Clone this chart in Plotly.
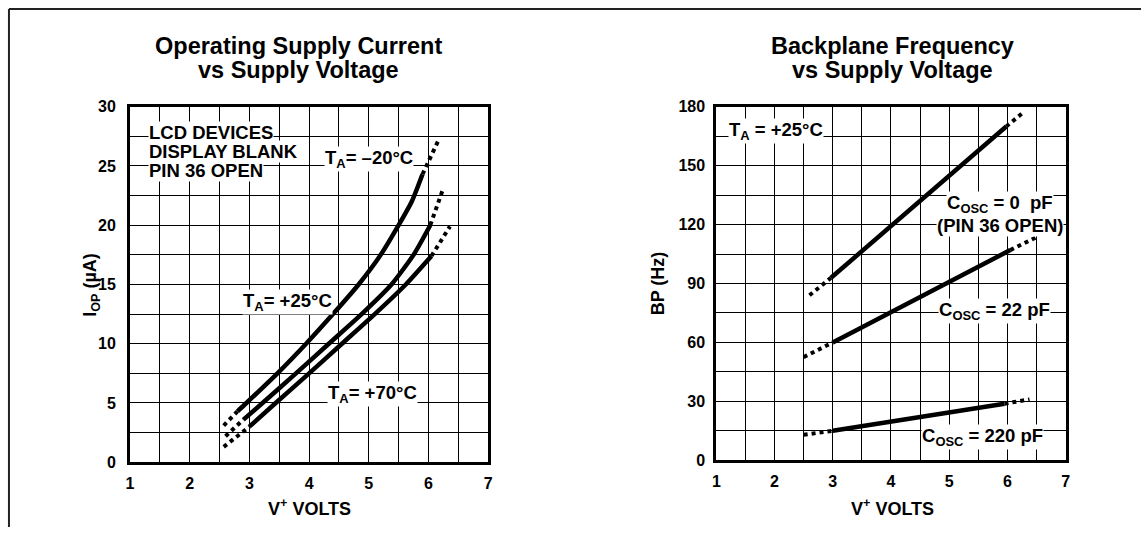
import plotly.graph_objects as go

# ---------------- Left chart: Operating supply current vs supply voltage ----------------
v_m20 = [2.80, 2.95, 3.47, 3.95, 4.40, 4.83, 5.20, 5.50, 5.72, 5.90]
i_m20 = [4.3, 5.0, 7.5, 10.0, 12.5, 15.0, 17.5, 20.0, 22.0, 24.3]
v_m20_lo = [2.57, 2.80]
i_m20_lo = [3.1, 4.3]
v_m20_hi = [5.90, 6.17]
i_m20_hi = [24.3, 27.2]

v_p25 = [2.90, 3.22, 3.78, 4.33, 4.88, 5.38, 5.75, 6.03]
i_p25 = [3.6, 5.0, 7.5, 10.0, 12.5, 15.0, 17.5, 20.0]
v_p25_lo = [2.60, 2.90]
i_p25_lo = [2.2, 3.6]
v_p25_hi = [6.03, 6.24]
i_p25_hi = [20.0, 23.0]

v_p70 = [3.00, 3.44, 4.00, 4.55, 5.10, 5.62, 6.05]
i_p70 = [3.0, 5.0, 7.5, 10.0, 12.5, 15.0, 17.4]
v_p70_lo = [2.57, 3.00]
i_p70_lo = [1.3, 3.0]
v_p70_hi = [6.05, 6.36]
i_p70_hi = [17.4, 19.9]

# ---------------- Right chart: Backplane frequency vs supply voltage ----------------
v_c0 = [2.97, 5.98]
bp_c0 = [92.9, 169.9]
v_c0_lo = [2.60, 2.97]
bp_c0_lo = [84.0, 92.9]
v_c0_hi = [5.98, 6.29]
bp_c0_hi = [169.9, 177.5]

v_c22 = [3.0, 6.05]
bp_c22 = [60.0, 107.0]
v_c22_lo = [2.5, 3.0]
bp_c22_lo = [52.5, 60.0]
v_c22_hi = [6.05, 6.5]
bp_c22_hi = [107.0, 113.6]

v_c220 = [3.0, 5.95]
bp_c220 = [15.0, 28.8]
v_c220_lo = [2.5, 3.0]
bp_c220_lo = [13.0, 15.0]
v_c220_hi = [5.95, 6.38]
bp_c220_hi = [28.8, 31.0]

x_ticks = [1, 2, 3, 4, 5, 6, 7]
left_y_ticks = [0, 5, 10, 15, 20, 25, 30]
right_y_ticks = [0, 30, 60, 90, 120, 150, 180]

W, H = 1146, 536
FONT = "Liberation Sans, Arial, Helvetica, sans-serif"


def T(y):
    """target pixel row -> layout pixel row (compensates the capture's vertical fit)"""
    return (y - 5.6) / 0.975


def py(y):
    return (H - T(y)) / H


fig = go.Figure()


def add_series(xs, ys, xa, ya, dash):
    fig.add_trace(go.Scatter(
        x=xs, y=ys, mode="lines", xaxis=xa, yaxis=ya, showlegend=False,
        hoverinfo="skip",
        line=dict(color="black", width=4.5 if dash == "solid" else 4, dash=dash,
                  shape="spline", smoothing=0.6),
    ))


for xs, ys, d in [
    (v_m20, i_m20, "solid"), (v_m20_lo, i_m20_lo, "dot"), (v_m20_hi, i_m20_hi, "dot"),
    (v_p25, i_p25, "solid"), (v_p25_lo, i_p25_lo, "dot"), (v_p25_hi, i_p25_hi, "dot"),
    (v_p70, i_p70, "solid"), (v_p70_lo, i_p70_lo, "dot"), (v_p70_hi, i_p70_hi, "dot"),
]:
    add_series(xs, ys, "x", "y", d)

for xs, ys, d in [
    (v_c0, bp_c0, "solid"), (v_c0_lo, bp_c0_lo, "dot"), (v_c0_hi, bp_c0_hi, "dot"),
    (v_c22, bp_c22, "solid"), (v_c22_lo, bp_c22_lo, "dot"), (v_c22_hi, bp_c22_hi, "dot"),
    (v_c220, bp_c220, "solid"), (v_c220_lo, bp_c220_lo, "dot"), (v_c220_hi, bp_c220_hi, "dot"),
]:
    add_series(xs, ys, "x2", "y2", d)

tickfont = dict(family=FONT, size=16, color="black", weight="bold")


def xaxis_cfg(domain, anchor):
    return dict(
        domain=domain, anchor=anchor, range=[1, 7], tickvals=x_ticks,
        showgrid=True, gridcolor="black", gridwidth=1,
        minor=dict(dtick=0.5, showgrid=True, gridcolor="black", gridwidth=1),
        showline=True, linecolor="black", linewidth=3, mirror=True,
        ticks="", tickfont=tickfont, zeroline=False, ticklabelstandoff=5,
    )


def yaxis_cfg(domain, anchor, rng, vals, minor, standoff):
    return dict(
        domain=domain, anchor=anchor, range=rng, tickvals=vals,
        showgrid=True, gridcolor="black", gridwidth=1,
        minor=dict(dtick=minor, showgrid=True, gridcolor="black", gridwidth=1),
        showline=True, linecolor="black", linewidth=3, mirror=True,
        ticks="", tickfont=tickfont, zeroline=False, ticklabelstandoff=standoff,
    )


ydom_l = [py(463), py(105)]
ydom_r = [py(461), py(105)]

fig.update_layout(
    width=W, height=H,
    margin=dict(l=0, r=0, t=0, b=0),
    paper_bgcolor="white", plot_bgcolor="white",
    font=dict(family=FONT, color="black"),
    xaxis=xaxis_cfg([127 / W, 488 / W], "y"),
    yaxis=yaxis_cfg(ydom_l, "x", [0, 30], left_y_ticks, 2.5, 8),
    xaxis2=xaxis_cfg([718 / W, 1070 / W], "y2"),
    yaxis2=yaxis_cfg(ydom_r, "x2", [0, 180], right_y_ticks, 15, 5),
)

# outer frame (top and left edges)
fig.add_shape(type="line", xref="paper", yref="paper", x0=5 / W, x1=1.0,
              y0=(H - 1) / H, y1=(H - 1) / H, line=dict(color="#222", width=2))
fig.add_shape(type="line", xref="paper", yref="paper", x0=5 / W, x1=5 / W,
              y0=0, y1=(H - 1) / H, line=dict(color="#222", width=2))


def ptext(x, y, text, size, angle=0):
    fig.add_annotation(xref="paper", yref="paper", x=x / W, y=py(y),
                       xanchor="center", yanchor="middle", text=text,
                       showarrow=False, textangle=angle,
                       font=dict(family=FONT, size=size, color="black", weight="bold"))


# titles (one annotation per line for tight leading)
ptext(297, 43.5, "Operating Supply Current", 23.5)
ptext(297, 68.5, "vs Supply Voltage", 23.5)
ptext(896, 43.5, "Backplane Frequency", 23.5)
ptext(896, 68.5, "vs Supply Voltage", 23.5)

# axis titles
ptext(308, 509, "V<sup>+</sup> VOLTS", 18)
ptext(896, 509, "V<sup>+</sup> VOLTS", 18)
ptext(88, 284, "I<sub>OP</sub> (µA)", 18, angle=-90)
ptext(660, 283, "BP (Hz)", 18, angle=-90)

ann_font = dict(family=FONT, size=18.5, color="black", weight="bold")


def label(xref, yref, x, y, text, xanchor="center"):
    fig.add_annotation(xref=xref, yref=yref, x=x, y=y, text=text, showarrow=False,
                       font=ann_font, bgcolor="white", xanchor=xanchor,
                       yanchor="middle", borderpad=0)


# left chart labels
label("x", "y", 1.30, 27.8, "LCD DEVICES", xanchor="left")
label("x", "y", 1.30, 26.2, "DISPLAY BLANK", xanchor="left")
label("x", "y", 1.30, 24.6, "PIN 36 OPEN", xanchor="left")
label("x", "y", 5.00, 25.6, "T<sub>A</sub>= –20°C")
label("x", "y", 3.64, 13.5, "T<sub>A</sub>= +25°C")
label("x", "y", 5.06, 5.8, "T<sub>A</sub>= +70°C")

# right chart labels
label("x2", "y2", 2.03, 167.5, "T<sub>A</sub> = +25°C")
label("x2", "y2", 5.87, 130.5, "C<sub>OSC</sub> = 0  pF")
label("x2", "y2", 5.87, 119.5, "(PIN 36 OPEN)")
label("x2", "y2", 5.78, 76.0, "C<sub>OSC</sub> = 22 pF")
label("x2", "y2", 5.58, 12.0, "C<sub>OSC</sub> = 220 pF")

fig.write_html(
    "out.html",
    config={"displayModeBar": False},
    post_script="document.body.style.margin='0';document.body.style.padding='0';"
                "document.body.style.overflow='hidden';",
)
